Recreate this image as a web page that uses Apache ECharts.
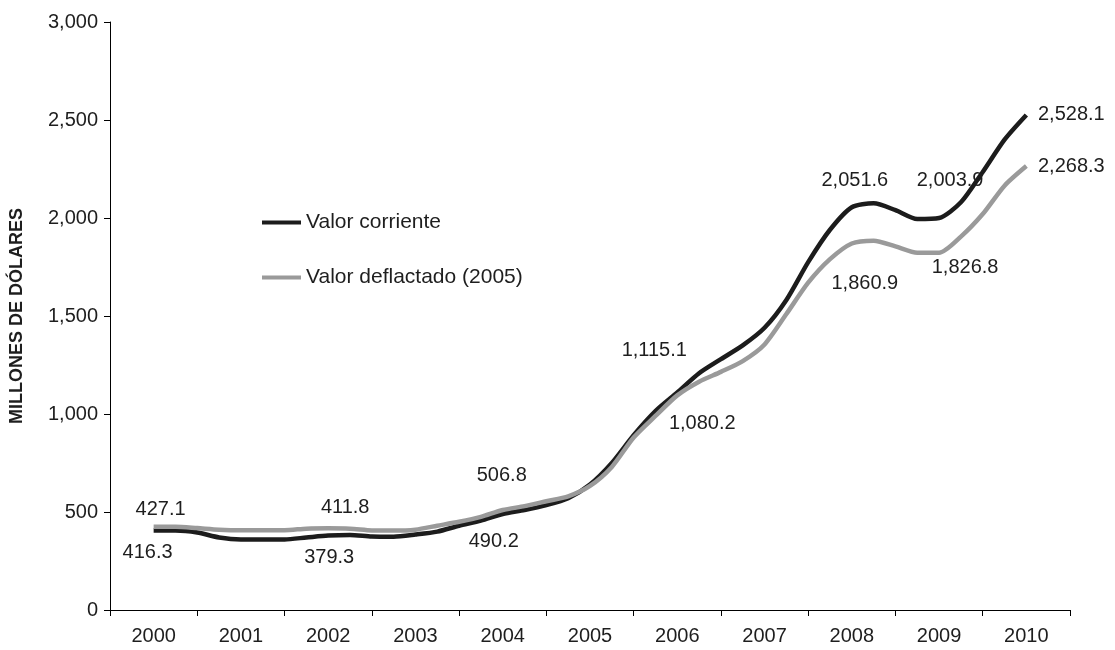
<!DOCTYPE html>
<html>
<head>
<meta charset="utf-8">
<script src="https://cdn.jsdelivr.net/npm/echarts@6/dist/echarts.min.js"></script>
<style>
html,body{margin:0;padding:0;background:#fff;}
#chart{width:1115px;height:650px;}
</style>
</head>
<body>
<div id="chart"></div>
<script>
// Category labels on the x axis
const years = ['2000','2001','2002','2003','2004','2005','2006','2007','2008','2009','2010'];
// Time positions (quarterly) of the plotted points
const periods = [2000,2000.25,2000.5,2000.75,2001,2001.25,2001.5,2001.75,2002,2002.25,2002.5,2002.75,
  2003,2003.25,2003.5,2003.75,2004,2004.25,2004.5,2004.75,2005,2005.25,2005.5,2005.75,
  2006,2006.25,2006.5,2006.75,2007,2007.25,2007.5,2007.75,2008,2008.25,2008.5,2008.75,
  2009,2009.25,2009.5,2009.75,2010];
// Valor corriente (millones de dólares)
const corriente = [405,405,395,370, 360,360,360,370, 380,383,375,374, 385,400,430,456,
  490,510,535,570, 640,750,892,1015, 1110,1208,1280,1350, 1440,1582,1775,1940,
  2055,2075,2040,1995, 2000,2080,2235,2400, 2526];
// Valor deflactado (2005)
const deflactado = [425,425,418,410, 407,407,407,415, 417,415,406,405, 410,430,450,475,
  510,530,555,580, 633,730,880,990, 1095,1165,1215,1270, 1355,1510,1670,1790,
  1870,1884,1855,1823, 1823,1905,2020,2165, 2265];
// Annotated annual values
const labelYears = [2000,2002,2004,2006,2008,2009,2010];
const corrienteLabels = [416.3,379.3,490.2,1115.1,2051.6,2003.9,2528.1];
const deflactadoLabels = [427.1,411.8,506.8,1080.2,1860.9,1826.8,2268.3];
// Y axis ticks
const yTicks = [0,500,1000,1500,2000,2500,3000];

const FONT = '"Liberation Sans", Arial, Helvetica, sans-serif';
const TXT = '#1e1e1e';
const BLACK = '#1c1c1c';
const GRAY = '#9a9a9a';

function fmt(v){ return v.toLocaleString('en-US',{minimumFractionDigits:1,maximumFractionDigits:1}); }
function pairs(vals){ return periods.map((p,i)=>[p, vals[i]]); }

const offB = [[-6,22],[1,22],[-9,28],[-23,-42],[3,-27],[11,-38],[45,0]];
const offG = [[7,-17],[17,-21],[-1,-35],[25,28],[13,40],[26,15],[45,0]];

function labelPoints(vals, labels, offs){
  return labelYears.map((y,i)=>{
    const idx = periods.indexOf(y);
    return {
      value:[y, vals[idx]],
      label:{show:true, position:'inside', offset:offs[i], formatter: fmt(labels[i]),
        fontFamily:FONT, fontSize:20, color:TXT, align:'center', verticalAlign:'middle',
        textBorderWidth:0, opacity:1}
    };
  });
}

const chart = echarts.init(document.getElementById('chart'), null, {renderer:'canvas'});
chart.setOption({
  animation:false,
  backgroundColor:'#fff',
  textStyle:{fontFamily:FONT, color:TXT},
  grid:{left:110, right:45, top:22, bottom:40},
  legend:{
    orient:'vertical', left:262, top:212, padding:0, itemWidth:39, itemHeight:4, itemGap:34, icon:'rect',
    textStyle:{fontSize:21, color:TXT, fontFamily:FONT},
    data:['Valor corriente','Valor deflactado (2005)']
  },
  xAxis:[
    {type:'category', data:years, boundaryGap:true,
     axisLine:{lineStyle:{color:'#000', width:1}},
     axisTick:{show:true, inside:false, length:6, alignWithLabel:false, interval:0, lineStyle:{color:'#000'}},
     axisLabel:{fontSize:20, color:TXT, margin:16, fontFamily:FONT, interval:0},
     splitLine:{show:false}},
    {type:'value', min:1999.5, max:2010.5, show:false, splitLine:{show:false}}
  ],
  yAxis:{
    type:'value', min:0, max:3000, interval:500,
    name:'MILLONES DE DÓLARES', nameLocation:'middle', nameGap:84,
    nameTextStyle:{fontSize:18, fontWeight:'bold', color:TXT, fontFamily:FONT},
    axisLine:{show:true, lineStyle:{color:'#000', width:1}},
    axisTick:{show:true, inside:false, length:6, lineStyle:{color:'#000'}},
    axisLabel:{fontSize:20, color:TXT, margin:12, fontFamily:FONT,
      formatter:(v)=> yTicks.indexOf(v)>=0 ? v.toLocaleString('en-US') : ''},
    splitLine:{show:false}
  },
  series:[
    {name:'Valor corriente', type:'line', xAxisIndex:1, data:pairs(corriente), smooth:0.25,
     showSymbol:false, symbol:'none', lineStyle:{color:BLACK, width:4.5}, itemStyle:{color:BLACK}, z:3},
    {name:'Valor deflactado (2005)', type:'line', xAxisIndex:1, data:pairs(deflactado), smooth:0.25,
     showSymbol:false, symbol:'none', lineStyle:{color:GRAY, width:4.5}, itemStyle:{color:GRAY}, z:4},
    {name:'lblB', type:'scatter', xAxisIndex:1, symbolSize:1, itemStyle:{color:'rgba(0,0,0,0)'},
     data:labelPoints(corriente, corrienteLabels, offB), z:10, silent:true},
    {name:'lblG', type:'scatter', xAxisIndex:1, symbolSize:1, itemStyle:{color:'rgba(0,0,0,0)'},
     data:labelPoints(deflactado, deflactadoLabels, offG), z:10, silent:true}
  ]
});
</script>
</body>
</html>
